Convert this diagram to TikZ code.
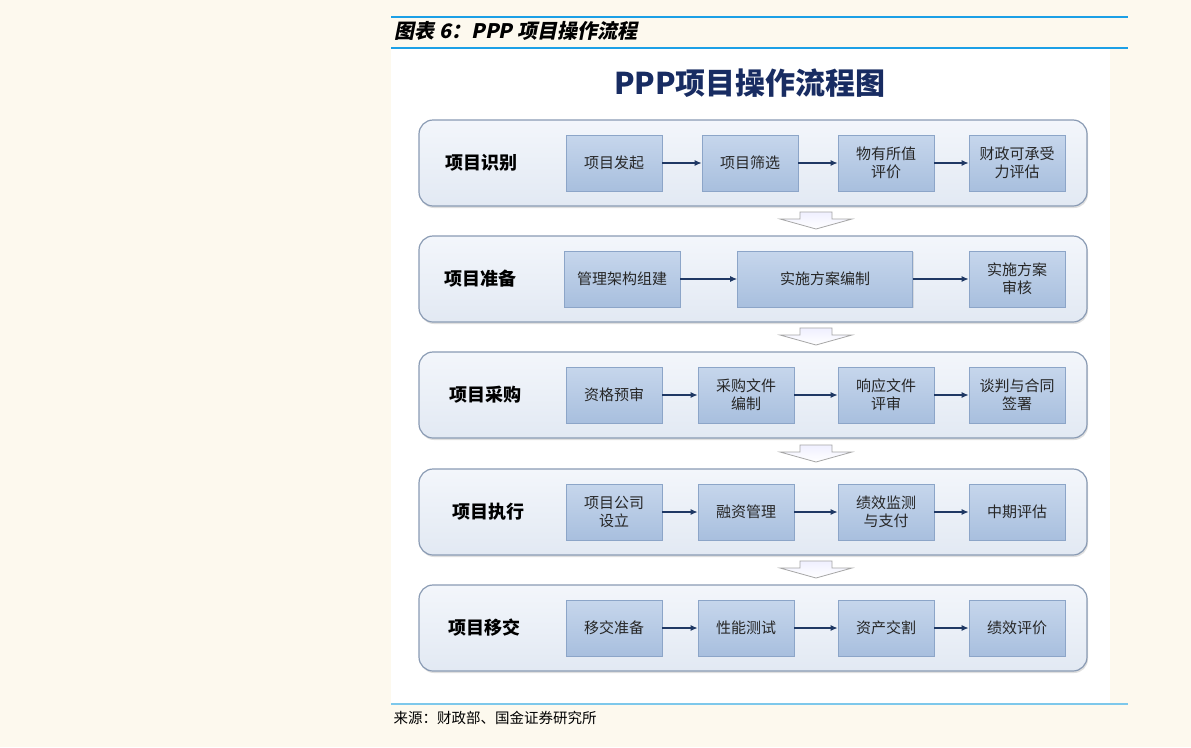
\documentclass[tikz,border=0pt]{standalone}
\usepackage{fontspec}
\newfontfamily\cjk{Noto Sans CJK SC}
\newfontfamily\cjkslant[FakeSlant=0.2]{Noto Sans CJK SC}
\usetikzlibrary{arrows.meta, shadows}
\definecolor{pagebg}{RGB}{253,249,238}
\definecolor{rulebl}{RGB}{28,160,230}
\definecolor{rulelt}{RGB}{125,200,235}
\definecolor{navy}{RGB}{24,44,98}
\definecolor{stageedge}{RGB}{138,155,180}
\definecolor{stagetop}{RGB}{243,246,251}
\definecolor{stagebot}{RGB}{226,233,243}
\definecolor{boxtop}{RGB}{198,214,236}
\definecolor{boxbot}{RGB}{168,191,222}
\definecolor{boxedge}{RGB}{140,165,200}
\definecolor{arrowline}{RGB}{31,56,100}
\tikzset{
    stage/.style={draw=stageedge, line width=1.2pt, rounded corners=14pt, top color=stagetop, bottom color=stagebot, minimum width=668pt, minimum height=86pt, drop shadow={shadow xshift=1pt, shadow yshift=-2pt, opacity=0.25}},
    phase/.style={font=\cjk\bfseries\fontsize{18}{20}\selectfont, text=black},
    task/.style={draw=boxedge, line width=0.8pt, top color=boxtop, bottom color=boxbot, minimum width=96pt, minimum height=56pt, align=center, inner sep=2pt, font=\cjk\fontsize{15}{18}\selectfont, text=black!85, drop shadow={shadow xshift=1pt, shadow yshift=-1pt, opacity=0.2}},
    arrow/.style={draw=arrowline, line width=1.1pt, -{Latex[length=7pt, width=6pt]}},
    downblk/.style={draw=gray!70, line width=0.8pt, top color=blue!6, bottom color=white}
}

\begin{document}
\begin{tikzpicture}[x=1pt, y=-1pt]
\useasboundingbox (0,0) rectangle (1191,747);
\fill[pagebg] (0,0) rectangle (1191,747);
\fill[white] (391,49) rectangle (1110,703);
\draw[rulebl, line width=1.2pt] (391,17) -- (1128,17);
\draw[rulebl, line width=1.2pt] (391,48) -- (1128,48);
\draw[rulelt, line width=1.2pt] (391,704) -- (1128,704);
\node[anchor=west, font=\cjkslant\bfseries\fontsize{20}{22}\selectfont] (caption) at (391,31) {图表 6：PPP 项目操作流程};
\node[anchor=west, font=\cjk\fontsize{14.5}{16}\selectfont] (source) at (390,718) {来源：财政部、国金证券研究所};
\node[font=\cjk\bfseries\fontsize{30}{34}\selectfont, text=navy] (title) at (750,83) {PPP项目操作流程图};

% stages
\node[stage] (ident) at (753,163) {};
\node[stage] (prep) at (753,279) {};
\node[stage] (proc) at (753,395) {};
\node[stage] (exec) at (753,512) {};
\node[stage] (hand) at (753,628) {};
\node[phase] (identl) at (481,163) {项目识别};
\node[phase] (prepl) at (480,279) {项目准备};
\node[phase] (procl) at (485,395) {项目采购};
\node[phase] (execl) at (488,512) {项目执行};
\node[phase] (handl) at (484,628) {项目移交};

% down arrows between stages
\draw[downblk, shift={(816,212)}] (-16,0) -- (16,0) -- (16,7) -- (36,7) -- (0,17) -- (-36,7) -- (-16,7) -- cycle;
\draw[downblk, shift={(816,328)}] (-16,0) -- (16,0) -- (16,7) -- (36,7) -- (0,17) -- (-36,7) -- (-16,7) -- cycle;
\draw[downblk, shift={(816,445)}] (-16,0) -- (16,0) -- (16,7) -- (36,7) -- (0,17) -- (-36,7) -- (-16,7) -- cycle;
\draw[downblk, shift={(816,561)}] (-16,0) -- (16,0) -- (16,7) -- (36,7) -- (0,17) -- (-36,7) -- (-16,7) -- cycle;

% identification
\node[task] (launch) at (614,163) {项目发起};
\node[task] (screen) at (750,163) {项目筛选};
\node[task] (vfm) at (886,163) {物有所值\\评价};
\node[task] (afford) at (1017,163) {财政可承受\\力评估};
\draw[arrow] (launch) -- (screen);
\draw[arrow] (screen) -- (vfm);
\draw[arrow] (vfm) -- (afford);

% preparation
\node[task, minimum width=116pt] (mgmt) at (622,279) {管理架构组建};
\node[task, minimum width=175pt] (plan) at (825,279) {实施方案编制};
\node[task] (review) at (1017,279) {实施方案\\审核};
\draw[arrow] (mgmt) -- (plan);
\draw[arrow] (plan) -- (review);

% procurement
\node[task] (prequal) at (614,395) {资格预审};
\node[task] (docs) at (746,395) {采购文件\\编制};
\node[task] (bids) at (886,395) {响应文件\\评审};
\node[task] (sign) at (1017,395) {谈判与合同\\签署};
\draw[arrow] (prequal) -- (docs);
\draw[arrow] (docs) -- (bids);
\draw[arrow] (bids) -- (sign);

% execution
\node[task] (spv) at (614,512) {项目公司\\设立};
\node[task] (finance) at (746,512) {融资管理};
\node[task] (monitor) at (886,512) {绩效监测\\与支付};
\node[task] (midterm) at (1017,512) {中期评估};
\draw[arrow] (spv) -- (finance);
\draw[arrow] (finance) -- (monitor);
\draw[arrow] (monitor) -- (midterm);

% transfer
\node[task] (handprep) at (614,628) {移交准备};
\node[task] (perf) at (746,628) {性能测试};
\node[task] (assets) at (886,628) {资产交割};
\node[task] (eval) at (1017,628) {绩效评价};
\draw[arrow] (handprep) -- (perf);
\draw[arrow] (perf) -- (assets);
\draw[arrow] (assets) -- (eval);
\end{tikzpicture}
\end{document}
